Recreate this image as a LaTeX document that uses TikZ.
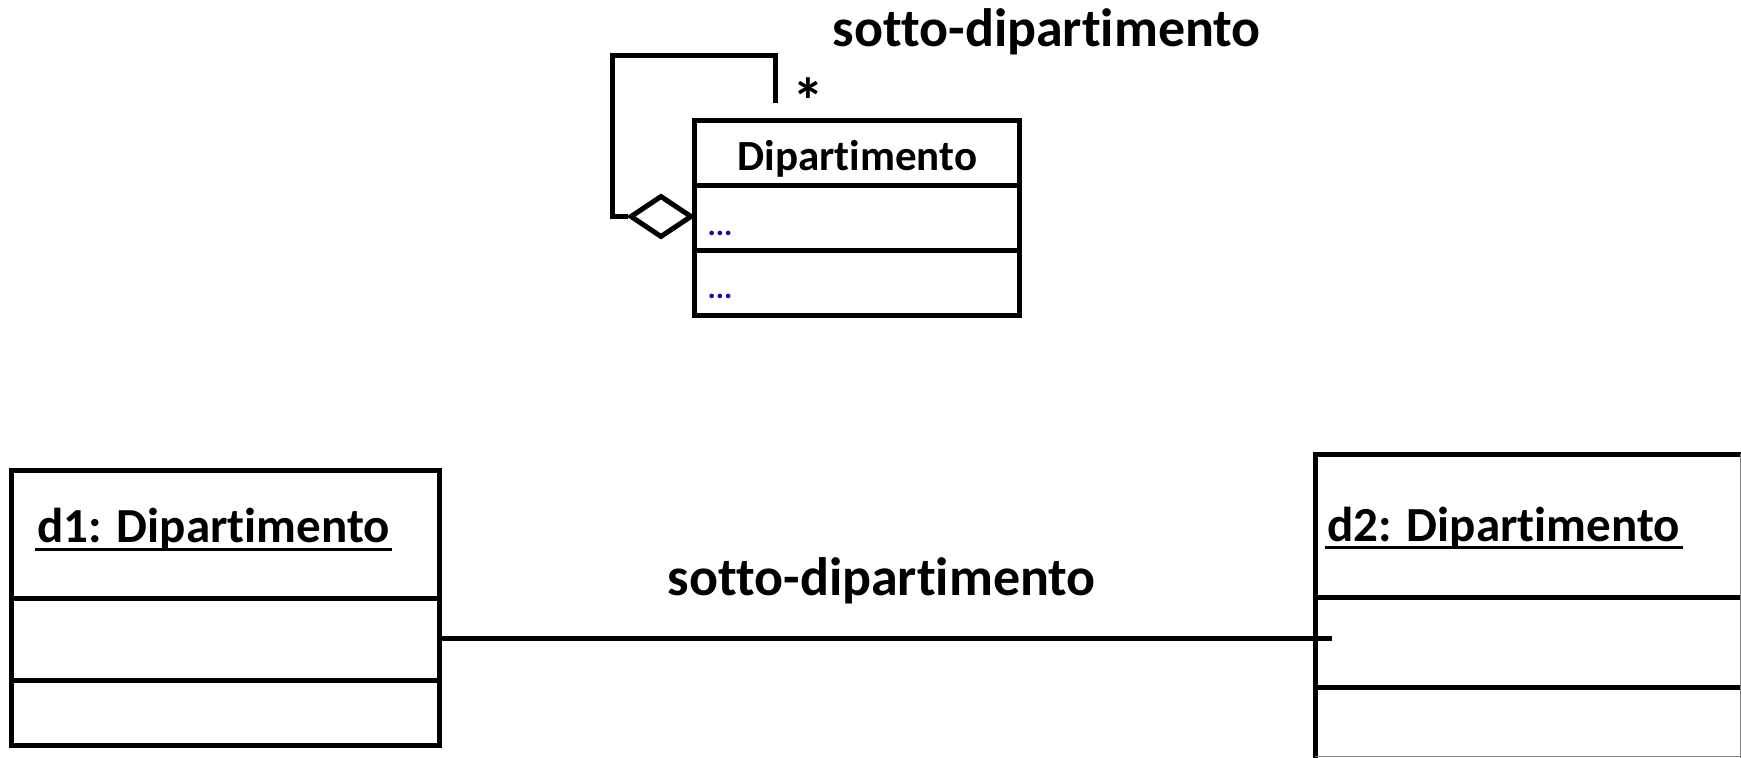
\documentclass[tikz,border=0pt]{standalone}
\usepackage{fontspec}
\setmainfont{Carlito}[Ligatures=CommonOff]
\usetikzlibrary{shapes.geometric}
\definecolor{dotblue}{RGB}{10,10,165}
\begin{document}
\begin{tikzpicture}[x=1pt,y=-1pt,line width=5pt,
  umlbox/.style={draw,rectangle,inner sep=0pt},
  clslbl/.style={inner sep=0pt,anchor=base west,font=\bfseries\fontsize{43}{48}\selectfont},
  objlbl/.style={inner sep=0pt,anchor=base west,font=\bfseries\fontsize{49}{54}\selectfont},
  biglbl/.style={inner sep=0pt,anchor=base west,font=\bfseries\fontsize{54}{60}\selectfont},
  dots/.style={inner sep=0pt,anchor=base west,text=dotblue,font=\bfseries\fontsize{31}{40}\selectfont},
  agg/.style={draw,diamond,fill=white,inner sep=0pt,minimum width=62pt,minimum height=42pt},
  uline/.style={line width=2.7pt}]
\useasboundingbox (0,0) rectangle (1741,758);
% class
\node[umlbox,minimum width=324.7pt,minimum height=195pt] (cls) at (856.65,217.5) {};
\draw (cls.west |- 0,185) -- (cls.east |- 0,185);
\draw (cls.west |- 0,250) -- (cls.east |- 0,250);
\node[clslbl] (clsname) at (735,170) {Dipartimento};
\node[dots] (attr) at (705,235) {...};
\node[dots] (oper) at (705,298.5) {...};
% aggregation loop
\node[agg] (dia) at (661,216.5) {};
\coordinate (lpA) at (612.7,55);
\coordinate (lpB) at (775,55);
\coordinate (lpEnd) at (775,103);
\draw (dia.west) -| (lpA) -- (lpB) -- (lpEnd);
\node[inner sep=0pt,anchor=base,font=\bfseries\fontsize{64}{66}\selectfont] (star) at (808,123) {*};
\node[biglbl] (toplbl) at (830,46.7) {sotto-dipartimento};
% objects
\node[umlbox,minimum width=427.6pt,minimum height=275pt] (d1) at (225.5,607.5) {};
\draw (d1.west |- 0,598.3) -- (d1.east |- 0,598.3);
\draw (d1.west |- 0,680) -- (d1.east |- 0,680);
\node[objlbl] (d1lab) at (35,542.7) {d1: Dipartimento};
\draw[uline] ([yshift=-6.5pt]d1lab.base west) -- ([yshift=-6.5pt]d1lab.base east);
\node[umlbox,minimum width=570pt,minimum height=400pt] (d2) at (1600,654) {};
\draw (d2.west |- 0,597.3) -- (1741,597.3);
\draw (d2.west |- 0,687.3) -- (1741,687.3);
\node[objlbl] (d2lab) at (1325,541.7) {d2: Dipartimento};
\draw[uline] ([yshift=-5.5pt]d2lab.base west) -- ([yshift=-5.5pt]d2lab.base east);
\draw[line width=1pt,gray] (1740.5,454) -- (1740.5,758);
\draw[line width=1pt,gray] (1315,756.5) -- (1741,756.5);
% link
\coordinate (linkEnd) at (1331.7,638);
\draw (d1.east |- linkEnd) -- (linkEnd);
\node[biglbl] (midlbl) at (665,595) {sotto-dipartimento};
\end{tikzpicture}
\end{document}
